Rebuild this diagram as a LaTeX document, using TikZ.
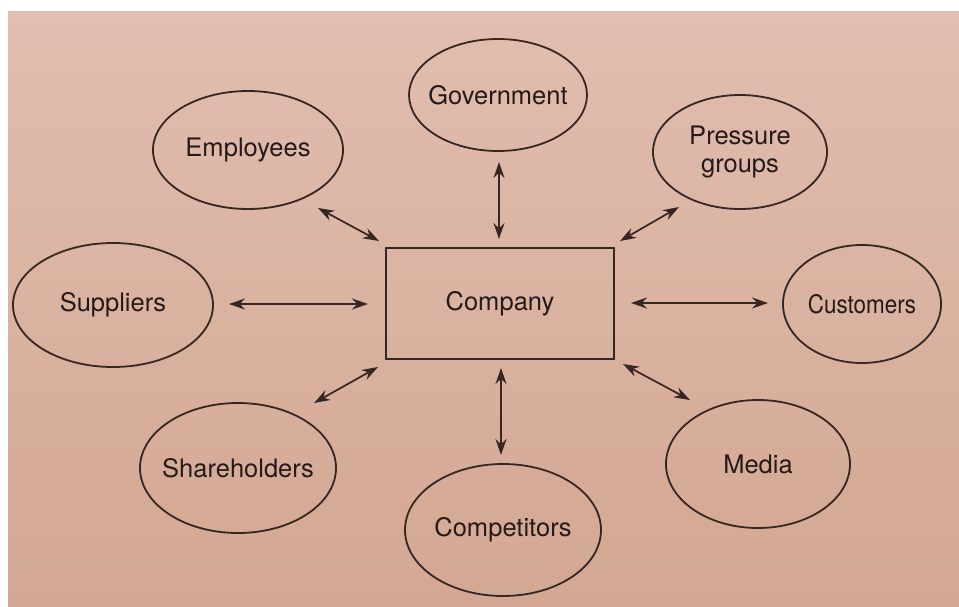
\documentclass[tikz,border=0pt]{standalone}
\usepackage{fontspec}
\setmainfont{TeX Gyre Heros}
\usetikzlibrary{arrows.meta,shapes.geometric}
\definecolor{paperA}{RGB}{225,190,175}
\definecolor{paperB}{RGB}{211,167,147}
\definecolor{ink}{RGB}{55,38,34}
\definecolor{textink}{RGB}{38,26,24}
\begin{document}
\begin{tikzpicture}[x=1pt,y=-1pt,
  lbl/.style={font=\fontsize{25.5}{28}\selectfont,text=textink,align=center,inner sep=0pt},
  stake/.style={draw=ink,line width=1.8pt,ellipse,inner sep=0pt},
  firm/.style={draw=ink,line width=1.8pt,rectangle,inner sep=0pt,
    font=\fontsize{25.5}{28}\selectfont,text=textink},
  link/.style={draw=ink,line width=1.7pt,{Stealth[length=16pt,width=11pt]}-{Stealth[length=16pt,width=11pt]}}]
\useasboundingbox (0,0) rectangle (959,606);
\fill[white] (0,0) rectangle (959,606);
\shade[top color=paperA,bottom color=paperB] (8,11) rectangle (959,606);
% nodes
\node[firm,minimum width=228pt,minimum height=111pt] (company) at (500,303.5) {Company};
\node[stake,minimum width=178pt,minimum height=112pt,label={[lbl]center:Government}] (gov) at (498,95) {};
\node[stake,minimum width=190pt,minimum height=118pt,label={[lbl]center:Employees}] (emp) at (248,150) {};
\node[stake,minimum width=174pt,minimum height=114pt,label={[lbl]center:Pressure\\groups}] (press) at (740,152) {};
\node[stake,minimum width=200pt,minimum height=124pt,label={[lbl]center:Suppliers}] (sup) at (113,305) {};
\node[stake,minimum width=158pt,minimum height=118pt,label={[lbl]center:\scalebox{0.88}[1]{Customers}}] (cust) at (862,304) {};
\node[stake,minimum width=196pt,minimum height=130pt,label={[lbl]center:Shareholders}] (share) at (238,468) {};
\node[stake,minimum width=196pt,minimum height=132pt,label={[lbl]center:Competitors}] (comp) at (503,530) {};
\node[stake,minimum width=184pt,minimum height=128pt,label={[lbl]center:Media}] (media) at (758,464) {};
% arrow end points
\coordinate (g1) at (499,162); \coordinate (g2) at (499,239);
\coordinate (e1) at (318,208); \coordinate (e2) at (379,241);
\coordinate (p1) at (679,207); \coordinate (p2) at (620,241);
\coordinate (s1) at (229,304); \coordinate (s2) at (368,304);
\coordinate (c1) at (631,303); \coordinate (c2) at (768,303);
\coordinate (h1) at (314,403); \coordinate (h2) at (378,367);
\coordinate (m1) at (501,368); \coordinate (m2) at (501,455);
\coordinate (d1) at (623,364); \coordinate (d2) at (690,400);
\draw[link] (g1) -- (g2);
\draw[link] (e1) -- (e2);
\draw[link] (p1) -- (p2);
\draw[link] (s1) -- (s2);
\draw[link] (c1) -- (c2);
\draw[link] (h1) -- (h2);
\draw[link] (m1) -- (m2);
\draw[link] (d1) -- (d2);
\end{tikzpicture}
\end{document}
